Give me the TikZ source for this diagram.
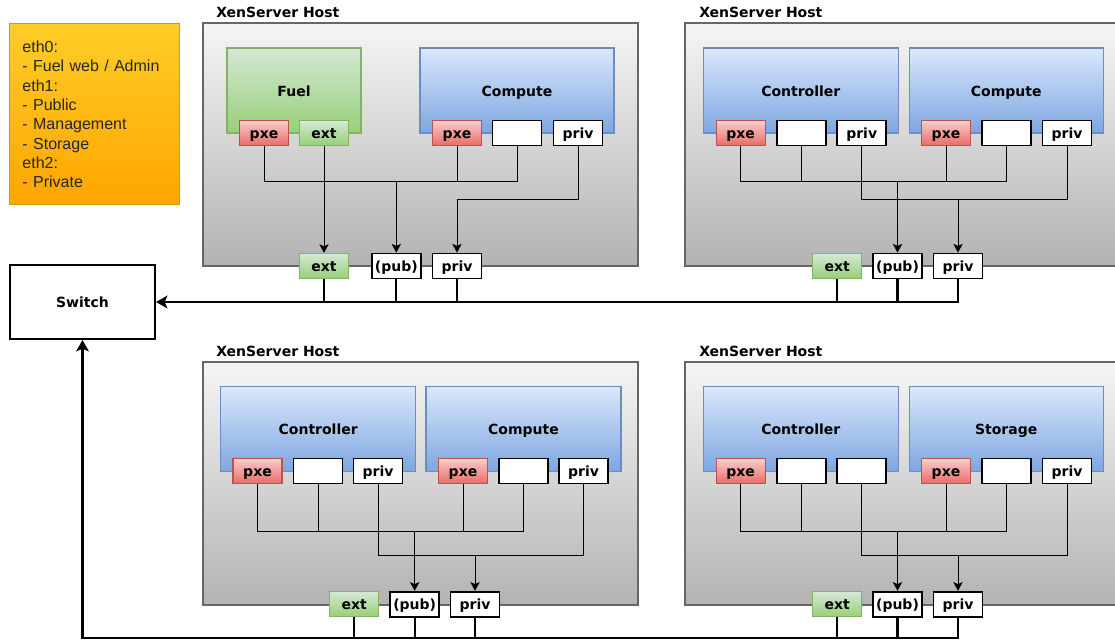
\documentclass[tikz,border=0pt]{standalone}
\usepackage{fontspec}
\setmainfont{DejaVu Sans}
\newfontfamily\legendfont{Liberation Sans}
\usetikzlibrary{arrows.meta}
\definecolor{hostline}{HTML}{666666}
\definecolor{hosttop}{HTML}{F5F5F5}
\definecolor{hostbot}{HTML}{B3B3B3}
\definecolor{blueline}{HTML}{6C8EBF}
\definecolor{bluetop}{HTML}{DAE8FC}
\definecolor{bluebot}{HTML}{7EA6E0}
\definecolor{greenline}{HTML}{82B366}
\definecolor{greentop}{HTML}{D5E8D4}
\definecolor{greenbot}{HTML}{97D077}
\definecolor{redline}{HTML}{B85450}
\definecolor{redtop}{HTML}{F8CECC}
\definecolor{redbot}{HTML}{EA6B66}
\definecolor{noteline}{HTML}{D79B00}
\definecolor{notetop}{HTML}{FFCD28}
\definecolor{notebot}{HTML}{FFA500}
\tikzset{
  boldlabel/.style={font=\bfseries\fontsize{10.5}{12}\selectfont},
  boxlabel/.style={boldlabel, text height=9pt, text depth=0.5pt},
  host/.style={draw=hostline, line width=1.2pt, top color=hosttop, bottom color=hostbot,
    minimum width=326.25pt, minimum height=182.25pt},
  hostlabel/.style={boldlabel, anchor=west, inner sep=0pt},
  vm/.style={boxlabel, draw=blueline, line width=1pt, top color=bluetop, bottom color=bluebot,
    minimum width=146.25pt, minimum height=63.75pt},
  fuelvm/.style={vm, draw=greenline, top color=greentop, bottom color=greenbot, minimum width=100.5pt},
  port/.style={boxlabel, draw, line width=1.4pt, fill=white, inner sep=0pt,
    minimum width=36.75pt, minimum height=18.75pt},
  pxe/.style={port, draw=redline, line width=0.9pt, top color=redtop, bottom color=redbot},
  ext/.style={port, draw=greenline, line width=0.9pt, top color=greentop, bottom color=greenbot},
  wire/.style={line width=0.75pt},
  arr/.style={wire, -{Stealth[length=6.5pt, width=7pt, inset=1.5pt]}},
  bus/.style={line width=1.6pt},
  busarr/.style={bus, -{Stealth[length=8.5pt, width=9.5pt, inset=2pt]}},
  note/.style={draw=noteline, line width=0.6pt, top color=notetop, bottom color=notebot,
    text width=108pt, inner xsep=9.5pt, minimum height=135.75pt, align=left, text=black!85,
    font=\legendfont\fontsize{12}{14.5}\selectfont}
}
\begin{document}
\begin{tikzpicture}[x=0.75pt, y=-0.75pt]
  \useasboundingbox (0,0) rectangle (1115,640);
  \node (legend) [note] at (94.5,114.3)
    {eth0:\\- Fuel web / Admin\\eth1:\\- Public\\- Management\\- Storage\\eth2:\\- Private};
  \node (switch) [boxlabel, draw, line width=1.5pt, fill=white,
    minimum width=108.75pt, minimum height=55.5pt] at (82.5,302) {Switch};

  \node (tlHost) [host] at (420.5,144.5) {};
  \node (trHost) [host] at (902.5,144.5) {};
  \node (blHost) [host] at (420.5,483.3) {};
  \node (brHost) [host] at (902.5,483.3) {};
  \node (tlLabel) [hostlabel] at (216,12) {XenServer Host};
  \node (trLabel) [hostlabel] at (699,12) {XenServer Host};
  \node (blLabel) [hostlabel] at (216,351) {XenServer Host};
  \node (brLabel) [hostlabel] at (699,351) {XenServer Host};

  \node (tlFuel) [fuelvm] at (294,90.5) {Fuel};
  \node (tlComp) [vm, minimum width=145.5pt] at (517,90.5) {Compute};
  \node (trCtrl) [vm] at (800.8,90.5) {Controller};
  \node (trComp) [vm, minimum width=145.5pt] at (1006.2,90.5) {Compute};
  \node (blCtrl) [vm] at (318.2,429) {Controller};
  \node (blComp) [vm] at (523.5,429) {Compute};
  \node (brCtrl) [vm] at (800.8,429) {Controller};
  \node (brStor) [vm, minimum width=145.5pt] at (1006.2,429) {Storage};

  \node (tlFpxe) [pxe] at (264,133) {pxe};
  \node (tlFext) [ext] at (324,133) {ext};
  \node (tlCpxe) [pxe] at (457,133) {pxe};
  \node (tlCnic) [port] at (517,133) {};
  \node (tlCpriv) [port] at (578,133) {priv};
  \node (tlExt) [ext] at (324,266) {ext};
  \node (tlPub) [port] at (396.3,266) {(pub)};
  \node (tlPriv) [port] at (457,266) {priv};

  \node (trApxe) [pxe] at (740.7,133) {pxe};
  \node (trAnic) [port] at (801.2,133) {};
  \node (trApriv) [port] at (861.7,133) {priv};
  \node (trBpxe) [pxe] at (946,133) {pxe};
  \node (trBnic) [port] at (1006.5,133) {};
  \node (trBpriv) [port] at (1067,133) {priv};
  \node (trExt) [ext] at (837.3,266) {ext};
  \node (trPub) [port] at (897.5,266) {(pub)};
  \node (trPriv) [port] at (958,266) {priv};

  \node (blApxe) [pxe] at (257.5,471) {pxe};
  \node (blAnic) [port] at (318,471) {};
  \node (blApriv) [port] at (378,471) {priv};
  \node (blBpxe) [pxe] at (463,471) {pxe};
  \node (blBnic) [port] at (523.2,471) {};
  \node (blBpriv) [port] at (583.5,471) {priv};
  \node (blExt) [ext] at (354.3,604.2) {ext};
  \node (blPub) [port] at (414.7,604.2) {(pub)};
  \node (blPriv) [port] at (475,604.2) {priv};

  \node (brApxe) [pxe] at (740.7,471) {pxe};
  \node (brAnic) [port] at (801.2,471) {};
  \node (brAnic2) [port] at (861.7,471) {};
  \node (brBpxe) [pxe] at (946,471) {pxe};
  \node (brBnic) [port] at (1006.5,471) {};
  \node (brBpriv) [port] at (1067,471) {priv};
  \node (brExt) [ext] at (837.3,604.2) {ext};
  \node (brPub) [port] at (897.5,604.2) {(pub)};
  \node (brPriv) [port] at (958,604.2) {priv};

  \coordinate (tlJ1) at (396.3,181);
  \coordinate (tlJ2) at (457,199);
  \coordinate (trJ1) at (897.5,181);
  \coordinate (trJ2) at (958,199);
  \coordinate (blJ1) at (414.7,531.3);
  \coordinate (blJ2) at (475,555.7);
  \coordinate (brJ1) at (897.5,531);
  \coordinate (brJ2) at (958,555.3);
  \coordinate (busEnd) at (82.5,638.3);

  \draw[wire] (tlFpxe.south) |- (tlCnic.south |- tlJ1) -- (tlCnic.south);
  \draw[wire] (tlCpxe.south) -- (tlCpxe.south |- tlJ1);
  \draw[arr] (tlJ1) -- (tlPub.north);
  \draw[arr] (tlCpriv.south) |- (tlJ2) -- (tlPriv.north);
  \draw[arr] (tlFext.south) -- (tlExt.north);

  \draw[wire] (trApxe.south) |- (trBnic.south |- trJ1) -- (trBnic.south);
  \draw[wire] (trAnic.south) -- (trAnic.south |- trJ1);
  \draw[wire] (trBpxe.south) -- (trBpxe.south |- trJ1);
  \draw[arr] (trJ1) -- (trPub.north);
  \draw[wire] (trApriv.south) |- (trBpriv.south |- trJ2) -- (trBpriv.south);
  \draw[arr] (trJ2) -- (trPriv.north);

  \draw[wire] (blApxe.south) |- (blBnic.south |- blJ1) -- (blBnic.south);
  \draw[wire] (blAnic.south) -- (blAnic.south |- blJ1);
  \draw[wire] (blBpxe.south) -- (blBpxe.south |- blJ1);
  \draw[arr] (blJ1) -- (blPub.north);
  \draw[wire] (blApriv.south) |- (blBpriv.south |- blJ2) -- (blBpriv.south);
  \draw[arr] (blJ2) -- (blPriv.north);

  \draw[wire] (brApxe.south) |- (brBnic.south |- brJ1) -- (brBnic.south);
  \draw[wire] (brAnic.south) -- (brAnic.south |- brJ1);
  \draw[wire] (brBpxe.south) -- (brBpxe.south |- brJ1);
  \draw[arr] (brJ1) -- (brPub.north);
  \draw[wire] (brAnic2.south) |- (brBpriv.south |- brJ2) -- (brBpriv.south);
  \draw[arr] (brJ2) -- (brPriv.north);

  \draw[busarr] (trPriv.south) |- (switch.east);
  \draw[bus] (trExt.south) -- (trExt.south |- switch.east);
  \draw[bus] (trPub.south) -- (trPub.south |- switch.east);
  \draw[bus] (tlExt.south) -- (tlExt.south |- switch.east);
  \draw[bus] (tlPub.south) -- (tlPub.south |- switch.east);
  \draw[bus] (tlPriv.south) -- (tlPriv.south |- switch.east);

  \draw[busarr] (brPriv.south) |- (busEnd) -- (switch.south);
  \draw[bus] (brExt.south) -- (brExt.south |- busEnd);
  \draw[bus] (brPub.south) -- (brPub.south |- busEnd);
  \draw[bus] (blExt.south) -- (blExt.south |- busEnd);
  \draw[bus] (blPub.south) -- (blPub.south |- busEnd);
  \draw[bus] (blPriv.south) -- (blPriv.south |- busEnd);
\end{tikzpicture}
\end{document}
